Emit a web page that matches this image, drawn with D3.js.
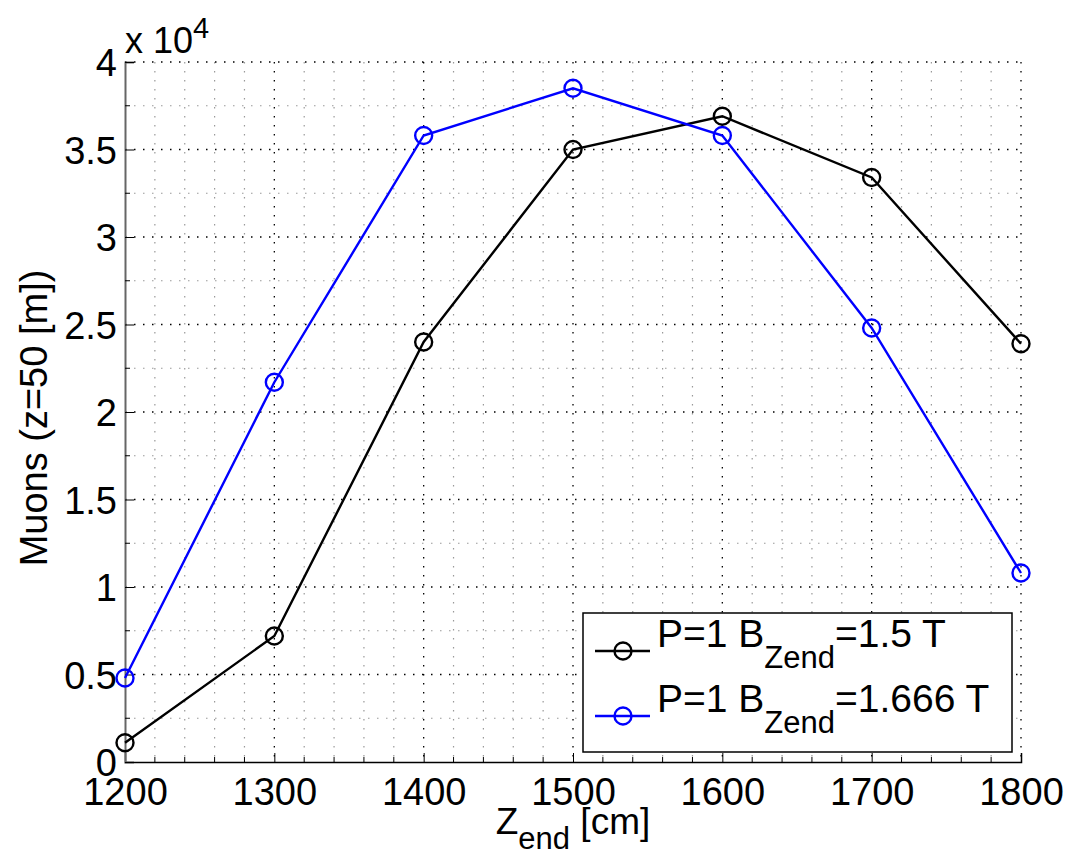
<!DOCTYPE html>
<html lang="en">
<head>
<meta charset="utf-8">
<title>Muons vs Zend</title>
<script src="https://d3js.org/d3.v7.min.js"></script>
<style>
  body { margin: 0; background: #fff; }
  text { font-family: "Liberation Sans", Helvetica, Arial, sans-serif; }
</style>
</head>
<body>
<div id="chart"></div>
<script>
// data (y in units of 1e4)
var zend = [1200, 1300, 1400, 1500, 1600, 1700, 1800];
var muons15 = [0.11, 0.72, 2.40, 3.50, 3.69, 3.34, 2.39];
var muons1666 = [0.48, 2.17, 3.58, 3.85, 3.58, 2.48, 1.08];
var xTicks = [1200, 1300, 1400, 1500, 1600, 1700, 1800];
var yTicks = [0, 0.5, 1, 1.5, 2, 2.5, 3, 3.5, 4];
var seriesNames = ["1.5 T", "1.666 T"];
var seriesColors = ["#000000", "#0000ff"];

var W = 1074, H = 858;
var margin = {top: 62, right: 53, bottom: 96, left: 125};
var width = W - margin.left - margin.right,
    height = H - margin.top - margin.bottom;

var x = d3.scaleLinear().domain([1200, 1800]).range([0, width]);
var y = d3.scaleLinear().domain([0, 4]).range([height, 0]);

var svg = d3.select("#chart").append("svg")
  .attr("width", W).attr("height", H);

var g = svg.append("g")
  .attr("transform", "translate(" + margin.left + "," + margin.top + ")");

// minor grid
var xMinor = d3.range(1200, 1801, 20).filter(function(d) { return d % 100 !== 0; });
var yMinor = d3.range(0.25, 4, 0.5);

g.append("g").selectAll("line").data(xMinor).enter().append("line")
  .attr("x1", function(d) { return x(d); }).attr("x2", function(d) { return x(d); })
  .attr("y1", 0).attr("y2", height)
  .attr("stroke", "#999").attr("stroke-width", 1.2).attr("stroke-dasharray", "1.5,7.5");
g.append("g").selectAll("line").data(yMinor).enter().append("line")
  .attr("y1", function(d) { return y(d); }).attr("y2", function(d) { return y(d); })
  .attr("x1", 0).attr("x2", width)
  .attr("stroke", "#999").attr("stroke-width", 1.2).attr("stroke-dasharray", "1.5,7.5");

// major grid
g.append("g").selectAll("line").data(xTicks.slice(1)).enter().append("line")
  .attr("x1", function(d) { return x(d); }).attr("x2", function(d) { return x(d); })
  .attr("y1", 0).attr("y2", height)
  .attr("stroke", "#000").attr("stroke-width", 1.3).attr("stroke-dasharray", "1.5,7.5");
g.append("g").selectAll("line").data(yTicks.slice(1)).enter().append("line")
  .attr("y1", function(d) { return y(d); }).attr("y2", function(d) { return y(d); })
  .attr("x1", 0).attr("x2", width)
  .attr("stroke", "#000").attr("stroke-width", 1.3).attr("stroke-dasharray", "1.5,7.5");

// axes, ticks pointing inward
var xAxis = d3.axisBottom(x).tickValues(xTicks).tickSize(-9).tickPadding(16)
  .tickFormat(d3.format("d"));
var xa = g.append("g").attr("transform", "translate(0," + height + ")").call(xAxis);
xa.select(".domain").attr("stroke", "#000").attr("stroke-width", 1.5);

var yAxis = d3.axisLeft(y).tickValues(yTicks).tickSize(-9).tickPadding(8)
  .tickFormat(function(d) { return d3.format("")(d); });
var ya = g.append("g").call(yAxis);
ya.select(".domain").attr("stroke", "#666").attr("stroke-width", 2);

[xa, ya].forEach(function(a) {
  a.selectAll(".tick text").attr("font-size", 38).attr("fill", "#000")
    .attr("font-family", "'Liberation Sans', Helvetica, Arial, sans-serif");
  a.selectAll(".tick line").attr("stroke", "#000");
});
ya.selectAll(".tick text").attr("dy", "0.36em");

// minor ticks
g.append("g").selectAll("line").data(xMinor).enter().append("line")
  .attr("x1", function(d) { return x(d); }).attr("x2", function(d) { return x(d); })
  .attr("y1", height).attr("y2", height - 5).attr("stroke", "#000");
g.append("g").selectAll("line").data(yMinor).enter().append("line")
  .attr("y1", function(d) { return y(d); }).attr("y2", function(d) { return y(d); })
  .attr("x1", 0).attr("x2", 5).attr("stroke", "#000");

// exponent label
var ex = svg.append("text").attr("x", margin.left).attr("y", 53)
  .attr("font-size", 36).attr("fill", "#000");
ex.append("tspan").text("x 10");
ex.append("tspan").attr("font-size", 29).attr("dy", -15).text("4");

// series
var series = [muons15, muons1666];
var line = d3.line()
  .x(function(d, i) { return x(zend[i]); })
  .y(function(d) { return y(d); });

series.forEach(function(vals, s) {
  g.append("path").datum(vals)
    .attr("d", line).attr("fill", "none")
    .attr("stroke", seriesColors[s]).attr("stroke-width", 2.4);
  g.append("g").selectAll("circle").data(vals).enter().append("circle")
    .attr("cx", function(d, i) { return x(zend[i]); })
    .attr("cy", function(d) { return y(d); })
    .attr("r", 8.5).attr("fill", "none")
    .attr("stroke", seriesColors[s]).attr("stroke-width", 2.4);
});

// axis titles
var xt = svg.append("text").attr("x", margin.left + width / 2).attr("y", 834)
  .attr("text-anchor", "middle").attr("font-size", 37).attr("fill", "#000");
xt.append("tspan").text("Z");
xt.append("tspan").attr("font-size", 31).attr("dy", 15).text("end");
xt.append("tspan").attr("dy", -15).text(" [cm]");

svg.append("text")
  .attr("transform", "translate(47,418) rotate(-90)")
  .attr("text-anchor", "middle").attr("font-size", 38).attr("fill", "#000")
  .text("Muons (z=50 [m])");

// legend
var lg = svg.append("g").attr("transform", "translate(583,613)");
lg.append("rect").attr("width", 429).attr("height", 139)
  .attr("fill", "#fff").attr("stroke", "#000").attr("stroke-width", 1.5);
seriesNames.forEach(function(name, s) {
  var cy = 38 + s * 65;
  lg.append("line").attr("x1", 12).attr("x2", 67).attr("y1", cy).attr("y2", cy)
    .attr("stroke", seriesColors[s]).attr("stroke-width", 2.4);
  lg.append("circle").attr("cx", 40).attr("cy", cy).attr("r", 8.5)
    .attr("fill", "none").attr("stroke", seriesColors[s]).attr("stroke-width", 2.4);
  var t = lg.append("text").attr("x", 74).attr("y", cy - 4)
    .attr("font-size", 39).attr("fill", "#000");
  t.append("tspan").text("P=1 B");
  t.append("tspan").attr("font-size", 31).attr("dy", 21).text("Zend");
  t.append("tspan").attr("dy", -21).text("=" + name);
});
</script>
</body>
</html>
